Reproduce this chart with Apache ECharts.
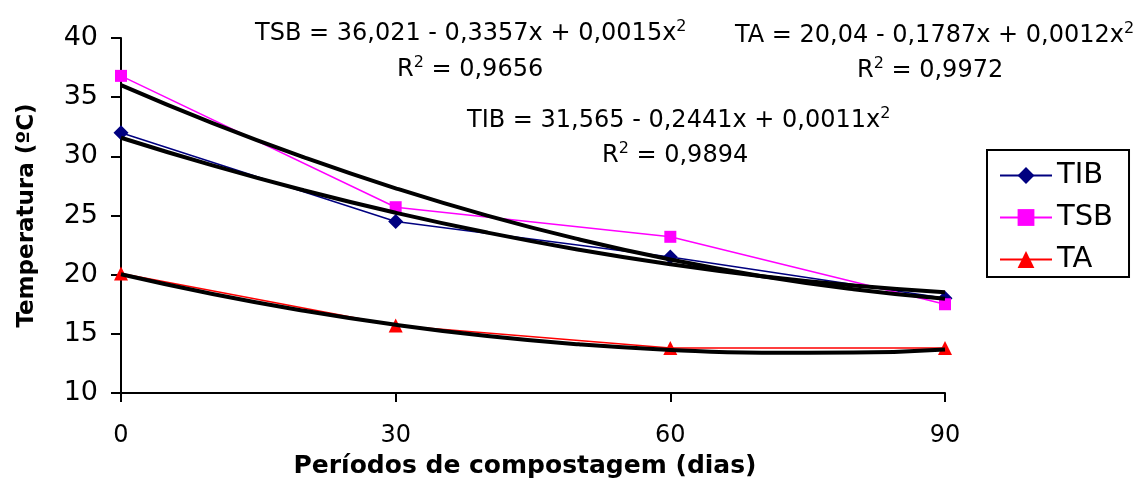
<!DOCTYPE html>
<html lang="pt">
<head>
    <meta charset="UTF-8">
    <title>Temperatura x Períodos de compostagem</title>
    <script src="https://cdn.jsdelivr.net/npm/echarts@6/dist/echarts.min.js"></script>
    <style>
        html, body { margin: 0; padding: 0; background: #fff; }
        #chart { width: 1134px; height: 492px; }
    </style>
</head>
<body>
    <div id="chart"></div>
    <script>
        // dias de compostagem
        const days = [0, 30, 60, 90];
        // temperaturas medidas
        const tib = [32.0, 24.5, 21.5, 18.0];
        const tsb = [36.8, 25.7, 23.2, 17.5];
        const ta = [20.1, 15.7, 13.8, 13.8];

        // linhas de tendência
        const trendDays = [0, 10, 20, 30, 40, 50, 60, 70, 80, 90];
        const tibTrend = [31.57, 29.23, 27.12, 25.23, 23.56, 22.11, 20.88, 19.87, 19.08, 18.51];
        const tsbTrend = [36.02, 32.81, 29.91, 27.30, 24.99, 22.99, 21.28, 19.87, 18.77, 17.96];
        const taTrend = [20.04, 18.37, 16.95, 15.76, 14.81, 14.11, 13.64, 13.41, 13.42, 13.68];

        const yTicks = [10, 15, 20, 25, 30, 35, 40];
        const xTicks = [0, 30, 60, 90];

        const pairs = (xs, ys) => xs.map((x, i) => [x, ys[i]]);
        const font = 'DejaVu Sans, sans-serif';

        const chart = echarts.init(document.getElementById('chart'));

        const supRich = {
            sup: { fontSize: 16, fontFamily: font, fill: '#000', padding: [0, 0, 14, 0] }
        };
        function label(text, x, y) {
            return {
                type: 'text',
                left: x,
                top: y,
                style: {
                    text: text,
                    fontSize: 24,
                    fontFamily: font,
                    fill: '#000',
                    rich: supRich
                }
            };
        }

        const option = {
            animation: false,
            grid: { left: 121, right: 189, top: 38, bottom: 99 },
            xAxis: {
                type: 'value',
                min: 0,
                max: 90,
                interval: 30,
                name: 'Períodos de compostagem (dias)',
                nameLocation: 'middle',
                nameGap: 61,
                nameTextStyle: { fontSize: 25, fontWeight: 'bold', fontFamily: font, color: '#000',
                    padding: [0, 16, 0, 0] },
                axisLine: { lineStyle: { color: '#000', width: 2 } },
                axisTick: { show: true, length: 9, lineStyle: { color: '#000', width: 2 } },
                axisLabel: { fontSize: 24, fontFamily: font, color: '#000', margin: 31,
                    formatter: v => xTicks.includes(v) ? String(v) : '' },
                splitLine: { show: false }
            },
            yAxis: {
                type: 'value',
                min: 10,
                max: 40,
                interval: 5,
                name: 'Temperatura (ºC)',
                nameLocation: 'middle',
                nameGap: 82,
                nameTextStyle: { fontSize: 23, fontWeight: 'bold', fontFamily: font, color: '#000' },
                axisLine: { show: true, lineStyle: { color: '#000', width: 2 } },
                axisTick: { show: true, length: 10, lineStyle: { color: '#000', width: 2 } },
                axisLabel: { fontSize: 27, fontFamily: font, color: '#000', margin: 23,
                    formatter: v => yTicks.includes(v) ? String(v) : '' },
                splitLine: { show: false }
            },
            legend: {
                data: ['TIB', 'TSB', 'TA'],
                orient: 'vertical',
                left: 987,
                top: 150,
                padding: [11, 16, 3, 12],
                itemGap: 13,
                itemWidth: 52,
                itemHeight: 21,
                borderColor: '#000',
                borderWidth: 2,
                textStyle: { fontSize: 29, fontFamily: font, color: '#000' }
            },
            graphic: [
                label('TSB = 36,021 - 0,3357x + 0,0015x{sup|2}', 255, 19),
                label('R{sup|2} = 0,9656', 397, 55),
                label('TA = 20,04 - 0,1787x + 0,0012x{sup|2}', 735, 21),
                label('R{sup|2} = 0,9972', 857, 56),
                label('TIB = 31,565 - 0,2441x + 0,0011x{sup|2}', 467, 106),
                label('R{sup|2} = 0,9894', 602, 141)
            ],
            series: [
                {
                    name: 'TIB', type: 'line', data: pairs(days, tib),
                    symbol: 'diamond', symbolSize: 15,
                    itemStyle: { color: '#000080' },
                    lineStyle: { color: '#000080', width: 1.5 }, z: 3
                },
                {
                    name: 'TSB', type: 'line', data: pairs(days, tsb),
                    symbol: 'rect', symbolSize: 12,
                    itemStyle: { color: '#ff00ff' },
                    lineStyle: { color: '#ff00ff', width: 1.5 }, z: 3
                },
                {
                    name: 'TA', type: 'line', data: pairs(days, ta),
                    symbol: 'triangle', symbolSize: 14,
                    itemStyle: { color: '#ff0000' },
                    lineStyle: { color: '#ff0000', width: 1.5 }, z: 3
                },
                {
                    name: 'tendência TIB', type: 'line', data: pairs(trendDays, tibTrend),
                    smooth: true, showSymbol: false, silent: true,
                    lineStyle: { color: '#000', width: 4 }, z: 4
                },
                {
                    name: 'tendência TSB', type: 'line', data: pairs(trendDays, tsbTrend),
                    smooth: true, showSymbol: false, silent: true,
                    lineStyle: { color: '#000', width: 4 }, z: 4
                },
                {
                    name: 'tendência TA', type: 'line', data: pairs(trendDays, taTrend),
                    smooth: true, showSymbol: false, silent: true,
                    lineStyle: { color: '#000', width: 4 }, z: 4
                }
            ]
        };

        chart.setOption(option);
    </script>
</body>
</html>
